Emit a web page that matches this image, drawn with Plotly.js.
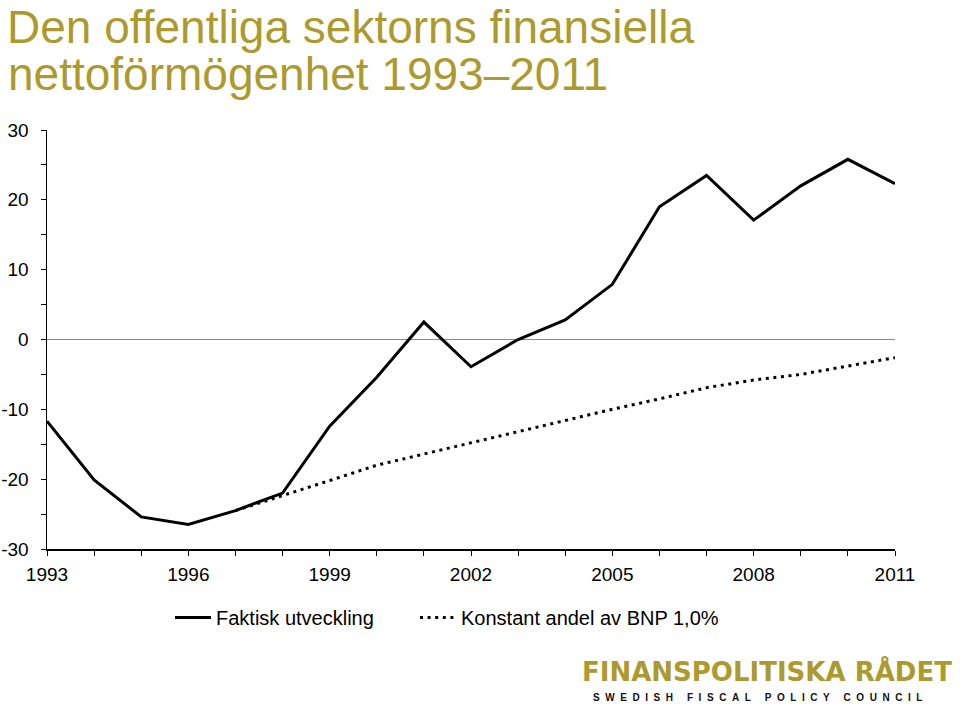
<!DOCTYPE html>
<html>
<head>
<meta charset="utf-8">
<script src="https://cdn.plot.ly/plotly-3.0.1.min.js"></script>
<style>html,body{margin:0;padding:0;background:#fff;}</style>
</head>
<body>
<div id="chart" style="width:960px;height:705px;"></div>
<script>
const years = [1993,1994,1995,1996,1997,1998,1999,2000,2001,2002,2003,2004,2005,2006,2007,2008,2009,2010,2011];
const faktisk = [-11.7,-20.1,-25.4,-26.5,-24.5,-22.0,-12.4,-5.4,2.5,-3.9,0.0,2.8,7.9,19.0,23.5,17.1,22.0,25.8,22.3];
const konstant = [null,null,null,null,-24.5,-22.4,-20.2,-18.0,-16.4,-14.8,-13.1,-11.5,-10.0,-8.5,-6.9,-5.8,-5.0,-3.8,-2.6];
const seriesNames = ['Faktisk utveckling','Konstant andel av BNP 1,0%'];
const yTickVals = [-30,-20,-10,0,10,20,30];
const yTickText = ['-30','-20','-10','0','10','20','30'];
const titleLines = ['Den offentliga sektorns finansiella','nettoförmögenhet 1993–2011'];
const logoText = 'FINANSPOLITISKA RÅDET';
const logoSub = 'SWEDISH FISCAL POLICY COUNCIL';

const gold = '#AC9A2E';
const font = 'Liberation Sans, Arial, sans-serif';
const spaced = logoSub.split(' ').map(w => w.split('').join('\u00A0\u00A0')).join('\u00A0\u00A0\u00A0\u00A0\u00A0');

// plot area in pixels: x 47..895, y 130..549.5
const px = v => (v - 47) / 848;
const py = v => (549.5 - v) / 419.5;

const traces = [
  {x: years, y: faktisk, name: seriesNames[0], type: 'scatter', mode: 'lines',
   line: {color: '#000', width: 3}},
  {x: years, y: konstant, name: seriesNames[1], type: 'scatter', mode: 'lines',
   line: {color: '#000', width: 3, dash: '3px,4.6px'}},
  {x: [null], y: [null], name: '\u00A0', type: 'scatter', mode: 'lines',
   line: {color: 'rgba(0,0,0,0)', width: 0}, hoverinfo: 'skip'}
];

const layout = {
  width: 960, height: 705,
  margin: {l: 47, r: 65, t: 130, b: 155.5},
  paper_bgcolor: '#fff', plot_bgcolor: '#fff',
  font: {family: font, color: '#000', size: 19},
  showlegend: true,
  xaxis: {range: [1993, 2011], dtick: 3, tick0: 1993, showgrid: false, zeroline: false,
          showline: true, linecolor: '#000', linewidth: 1.5, ticks: 'outside', ticklen: 5, tickcolor: '#000',
          tickfont: {size: 19}, ticklabelstandoff: 3,
          minor: {dtick: 1, tick0: 1993, ticks: 'outside', ticklen: 5, tickcolor: '#000', showgrid: false}},
  yaxis: {range: [-30, 30], tickmode: 'array', tickvals: yTickVals, ticktext: yTickText,
          showgrid: false, zeroline: true, zerolinecolor: '#888', zerolinewidth: 1.5,
          showline: true, linecolor: '#000', linewidth: 1.5, ticks: 'outside', ticklen: 5, tickcolor: '#000',
          tickfont: {size: 19}, ticklabelstandoff: 8,
          minor: {dtick: 5, tick0: 0, ticks: 'outside', ticklen: 5, tickcolor: '#000', showgrid: false}},
  legend: {orientation: 'h', x: px(170), xanchor: 'left', y: py(618), yanchor: 'middle',
           font: {size: 20}, entrywidth: 194, itemwidth: 36, bgcolor: 'rgba(0,0,0,0)'},
  annotations: [
    {text: titleLines[0], xref: 'paper', yref: 'paper', x: px(6), xanchor: 'left', y: py(0), yanchor: 'top',
     borderpad: 0, showarrow: false, font: {family: font, size: 46, color: gold}},
    {text: titleLines[1], xref: 'paper', yref: 'paper', x: px(6), xanchor: 'left', y: py(74), yanchor: 'middle',
     showarrow: false, font: {family: font, size: 46, color: gold}},
    {text: '<b>' + logoText + '</b>', xref: 'paper', yref: 'paper', x: px(954), xanchor: 'right',
     y: py(672), yanchor: 'middle', showarrow: false, font: {family: 'DejaVu Sans, sans-serif', size: 26, color: gold}},
    {text: '<b>' + spaced + '</b>', xref: 'paper', yref: 'paper', x: px(924), xanchor: 'right',
     y: py(698.5), yanchor: 'middle', showarrow: false, font: {family: font, size: 10, color: '#111'}}
  ]
};

Plotly.newPlot('chart', traces, layout, {staticPlot: true, displayModeBar: false});
</script>
</body>
</html>
